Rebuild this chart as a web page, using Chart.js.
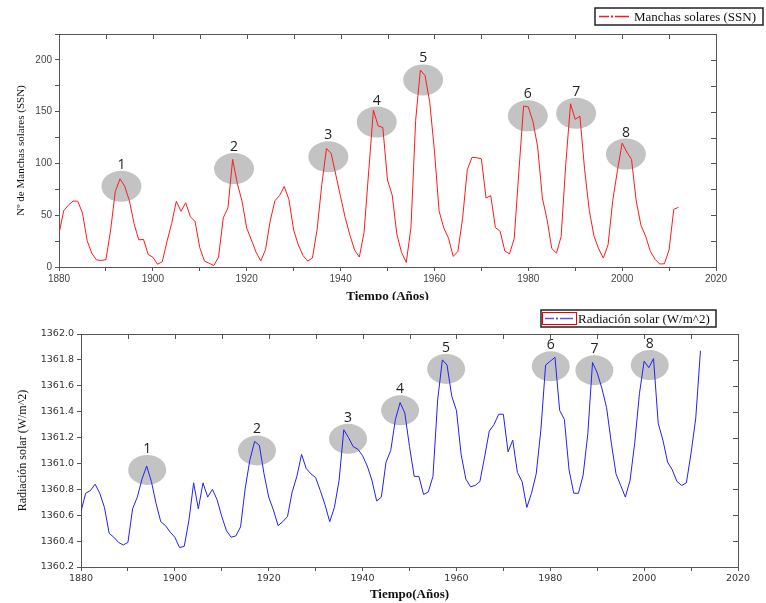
<!DOCTYPE html>
<html lang="es">
<head>
  <meta charset="UTF-8">
  <title>Manchas solares y radiación solar</title>
  <script src="https://cdn.jsdelivr.net/npm/chart.js"></script>
  <style>
    body { margin: 0; background: #fff; }
    #wrap { position: relative; width: 766px; height: 603px; overflow: hidden; }
    canvas { position: absolute; left: 0; }
    #ssnChart { top: 0; }
    #tsiChart { top: 300px; }
  </style>
</head>
<body>
<div id="wrap">
  <canvas id="ssnChart" width="766" height="300"></canvas>
  <canvas id="tsiChart" width="766" height="303"></canvas>
</div>

<script>
const years = [
  1880,1881,1882,1883,1884,1885,1886,1887,1888,1889,
  1890,1891,1892,1893,1894,1895,1896,1897,1898,1899,
  1900,1901,1902,1903,1904,1905,1906,1907,1908,1909,
  1910,1911,1912,1913,1914,1915,1916,1917,1918,1919,
  1920,1921,1922,1923,1924,1925,1926,1927,1928,1929,
  1930,1931,1932,1933,1934,1935,1936,1937,1938,1939,
  1940,1941,1942,1943,1944,1945,1946,1947,1948,1949,
  1950,1951,1952,1953,1954,1955,1956,1957,1958,1959,
  1960,1961,1962,1963,1964,1965,1966,1967,1968,1969,
  1970,1971,1972,1973,1974,1975,1976,1977,1978,1979,
  1980,1981,1982,1983,1984,1985,1986,1987,1988,1989,
  1990,1991,1992,1993,1994,1995,1996,1997,1998,1999,
  2000,2001,2002,2003,2004,2005,2006,2007,2008,2009,
  2010,2011,2012
];

// Nº de manchas solares (SSN)
const sunspots = [
  32.3,54.3,59.7,63.7,63.5,52.2,25.4,13.1,6.8,6.3,
  7.1,35.6,73.0,85.1,78.0,64.0,41.8,26.2,26.7,12.1,
  9.5,2.7,5.0,24.4,42.0,63.5,53.8,62.0,48.5,43.9,
  18.6,5.7,3.6,1.4,9.6,47.4,57.1,103.9,80.6,63.6,
  37.6,26.1,14.2,5.8,16.7,44.3,63.9,69.0,77.8,65.0,
  35.7,21.2,11.1,5.7,8.7,36.1,79.7,114.4,109.6,88.8,
  67.8,47.5,30.6,16.3,9.6,33.2,92.6,151.6,136.3,134.7,
  83.9,69.4,31.5,13.9,4.4,38.0,141.7,190.2,184.8,159.0,
  112.3,53.9,37.6,27.9,10.2,15.1,47.0,93.8,105.9,105.5,
  104.5,66.6,68.9,38.0,34.5,15.5,12.6,27.5,92.5,155.4,
  154.6,140.4,115.9,66.6,45.9,17.9,13.4,29.4,100.2,157.6,
  142.6,145.7,94.3,54.6,29.9,17.5,8.6,21.5,64.3,93.3,
  119.6,111.0,104.0,63.7,40.4,29.8,15.2,7.5,2.9,3.1,
  16.5,55.7,57.6
];

// Radiación solar (W/m^2)
const irradiance = [
  1360.63,1360.77,1360.79,1360.84,1360.77,1360.66,1360.46,1360.43,1360.39,1360.37,
  1360.39,1360.65,1360.74,1360.88,1360.98,1360.86,1360.69,1360.55,1360.52,1360.47,
  1360.43,1360.35,1360.36,1360.56,1360.85,1360.65,1360.85,1360.74,1360.80,1360.72,
  1360.59,1360.48,1360.43,1360.44,1360.51,1360.81,1361.03,1361.17,1361.14,1360.92,
  1360.74,1360.64,1360.52,1360.55,1360.59,1360.78,1360.90,1361.07,1360.96,1360.92,
  1360.89,1360.79,1360.68,1360.55,1360.66,1360.87,1361.26,1361.20,1361.13,1361.11,
  1361.06,1360.98,1360.87,1360.71,1360.74,1361.01,1361.10,1361.34,1361.47,1361.39,
  1361.13,1360.90,1360.90,1360.76,1360.78,1360.90,1361.49,1361.80,1361.76,1361.52,
  1361.41,1361.07,1360.88,1360.82,1360.83,1360.86,1361.05,1361.25,1361.30,1361.38,
  1361.38,1361.09,1361.18,1360.93,1360.86,1360.66,1360.77,1360.92,1361.26,1361.76,
  1361.79,1361.82,1361.41,1361.34,1360.95,1360.77,1360.77,1360.91,1361.23,1361.78,
  1361.70,1361.58,1361.43,1361.16,1360.92,1360.83,1360.74,1360.87,1361.16,1361.54,
  1361.79,1361.74,1361.81,1361.31,1361.18,1361.01,1360.95,1360.86,1360.83,1360.85,
  1361.08,1361.35,1361.87
];

// ciclos marcados (elipses grises)
const cycleLabels = ['1','2','3','4','5','6','7','8'];
const ssnCycleYears = [1893.3,1917.3,1937.4,1947.7,1957.6,1979.9,1990.2,2000.8];
const ssnCycleValues = [78,95,106.5,140,180.7,146,148.5,109];
const tsiCycleYears = [1894.1,1917.5,1936.9,1948,1957.8,1980.1,1989.4,2001.2];
const tsiCycleValues = [1360.95,1361.10,1361.19,1361.41,1361.73,1361.75,1361.72,1361.76];

const axisColor = '#555';

// ellipses drawn under the line, numbers above them
function cyclesPlugin(xs, ys, rx, ry) {
  return {
    id: 'cycles',
    beforeDatasetsDraw(chart) {
      const {ctx, scales} = chart;
      ctx.save();
      xs.forEach((yr, i) => {
        const cx = scales.x.getPixelForValue(yr);
        const cy = scales.y.getPixelForValue(ys[i]);
        ctx.fillStyle = '#c3c3c3';
        ctx.beginPath();
        ctx.ellipse(cx, cy, rx, ry, 0, 0, Math.PI * 2);
        ctx.fill();
        ctx.fillStyle = '#222';
        ctx.font = '14px "Open Sans"';
        ctx.textAlign = 'center';
        ctx.textBaseline = 'bottom';
        ctx.fillText(cycleLabels[i], cx, cy - ry + 1);
      });
      ctx.restore();
    }
  };
}

// top and right frame with inward ticks
const framePlugin = {
  id: 'frame',
  afterDraw(chart) {
    const {ctx, chartArea: a, scales} = chart;
    ctx.save();
    ctx.strokeStyle = axisColor;
    ctx.lineWidth = 1;
    ctx.beginPath();
    ctx.moveTo(a.left, a.top + 0.5);
    ctx.lineTo(a.right + 0.5, a.top + 0.5);
    ctx.lineTo(a.right + 0.5, a.bottom);
    scales.x.ticks.forEach(t => {
      const px = Math.round(scales.x.getPixelForValue(t.value)) + 0.5;
      ctx.moveTo(px, a.top);
      ctx.lineTo(px, a.top + 5);
    });
    scales.y.ticks.forEach(t => {
      const py = Math.round(scales.y.getPixelForValue(t.value)) + 0.5;
      ctx.moveTo(a.right, py);
      ctx.lineTo(a.right - 5, py);
    });
    ctx.stroke();
    ctx.restore();
  }
};

function legendPlugin(box, sample, text, color, redFrame) {
  return {
    id: 'boxLegend',
    afterDraw(chart) {
      const ctx = chart.ctx;
      ctx.save();
      ctx.strokeStyle = '#222';
      ctx.lineWidth = 1.5;
      ctx.strokeRect(box.x, box.y, box.w, box.h);
      const my = box.y + box.h / 2;
      if (redFrame) {
        ctx.strokeStyle = '#e00';
        ctx.lineWidth = 1;
        ctx.strokeRect(box.x + 1.5, box.y + 2.5, sample + 2, box.h - 5);
      }
      ctx.strokeStyle = color;
      ctx.lineWidth = 1.5;
      ctx.beginPath();
      ctx.moveTo(box.x + 4, my);
      ctx.lineTo(box.x + sample / 2 - 3, my);
      ctx.moveTo(box.x + sample / 2 + 3, my);
      ctx.lineTo(box.x + sample, my);
      ctx.stroke();
      ctx.fillStyle = color;
      ctx.fillRect(box.x + sample / 2 - 1, my - 1, 2, 2);
      ctx.fillStyle = '#111';
      ctx.font = '13px "Liberation Serif"';
      ctx.textBaseline = 'middle';
      ctx.fillText(text, box.x + sample + 5, my + 1);
      ctx.restore();
    }
  };
}

const tickFont = { family: 'Liberation Sans', size: 10 };

new Chart(document.getElementById('ssnChart'), {
  type: 'line',
  data: {
    datasets: [{
      label: 'Manchas solares (SSN)',
      data: years.map((yr, i) => ({ x: yr, y: sunspots[i] })),
      borderColor: '#ff1a1a',
      borderWidth: 1,
      pointRadius: 0,
      tension: 0
    }]
  },
  options: {
    responsive: false,
    animation: false,
    devicePixelRatio: 1,
    layout: { padding: { top: 34, right: 50, left: 0, bottom: 0 } },
    plugins: { legend: { display: false }, tooltip: { enabled: false } },
    scales: {
      x: {
        type: 'linear', min: 1880, max: 2020,
        ticks: { stepSize: 10, autoSkip: false, maxRotation: 0, padding: 2, color: '#444', font: tickFont,
                 callback: v => (v % 20 === 0 ? String(v) : '') },
        grid: { drawOnChartArea: false, tickLength: 4, color: axisColor },
        border: { color: axisColor },
        title: { display: true, text: 'Tiempo (Años)', color: '#111',
                 font: { family: 'Liberation Serif', size: 13, weight: 'bold' },
                 padding: { top: 0, bottom: -4 } },
        afterFit: s => { s.height = 33; }
      },
      y: {
        min: 0, max: 225,
        ticks: { stepSize: 25, padding: 3, color: '#444', font: tickFont,
                 callback: v => (v % 50 === 0 ? v : '') },
        grid: { drawOnChartArea: false, tickLength: 4, color: axisColor },
        border: { color: axisColor },
        title: { display: true, text: 'Nº de Manchas solares (SSN)', color: '#111',
                 font: { family: 'Liberation Serif', size: 11 },
                 padding: { top: 15, bottom: 0 } },
        afterFit: s => { s.width = 59; }
      }
    }
  },
  plugins: [
    cyclesPlugin(ssnCycleYears, ssnCycleValues, 20, 15.5),
    framePlugin,
    legendPlugin({ x: 595, y: 8, w: 168, h: 17 }, 34, 'Manchas solares (SSN)', '#ff1a1a', false)
  ]
});

new Chart(document.getElementById('tsiChart'), {
  type: 'line',
  data: {
    datasets: [{
      label: 'Radiación solar (W/m^2)',
      data: years.map((yr, i) => ({ x: yr, y: irradiance[i] })),
      borderColor: '#2020ff',
      borderWidth: 1,
      pointRadius: 0,
      tension: 0
    }]
  },
  options: {
    responsive: false,
    animation: false,
    devicePixelRatio: 1,
    layout: { padding: { top: 34, right: 28, left: 0, bottom: 0 } },
    plugins: { legend: { display: false }, tooltip: { enabled: false } },
    scales: {
      x: {
        type: 'linear', min: 1880, max: 2020,
        ticks: { stepSize: 10, autoSkip: false, maxRotation: 0, padding: 2, color: '#333',
                 font: { family: 'DejaVu Sans', size: 9.5 },
                 callback: v => (v % 20 === 0 ? String(v) : '') },
        grid: { drawOnChartArea: false, tickLength: 4, color: axisColor },
        border: { color: axisColor },
        title: { display: true, text: 'Tiempo(Años)', color: '#111',
                 font: { family: 'Liberation Serif', size: 13, weight: 'bold' },
                 padding: { top: 0, bottom: 1 } },
        afterFit: s => { s.height = 36; }
      },
      y: {
        min: 1360.2, max: 1362.0,
        ticks: { stepSize: 0.1, padding: 3, color: '#333',
                 font: { family: 'DejaVu Sans', size: 9.5 },
                 callback: v => (Math.round(v * 10) % 2 === 0 ? v.toFixed(1) : '') },
        grid: { drawOnChartArea: false, tickLength: 4, color: axisColor },
        border: { color: axisColor },
        title: { display: true, text: 'Radiación solar (W/m^2)', color: '#111',
                 font: { family: 'Liberation Serif', size: 12 },
                 padding: { top: 16, bottom: 0 } },
        afterFit: s => { s.width = 81; }
      }
    }
  },
  plugins: [
    cyclesPlugin(tsiCycleYears, tsiCycleValues, 19, 15),
    framePlugin,
    legendPlugin({ x: 541, y: 10, w: 175, h: 17 }, 32, 'Radiación solar (W/m^2)', '#5555ff', true)
  ]
});
</script>
</body>
</html>
